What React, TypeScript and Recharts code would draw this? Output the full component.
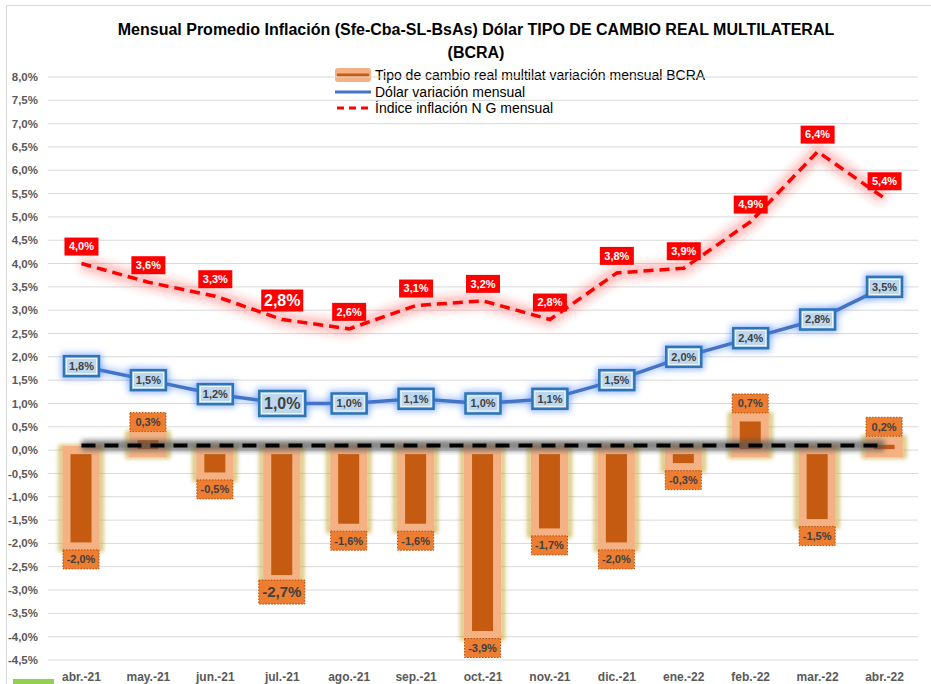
import { ComposedChart, Bar, Line, XAxis, YAxis, CartesianGrid, LabelList } from 'recharts'

const MESES = ['abr.-21', 'may.-21', 'jun.-21', 'jul.-21', 'ago.-21', 'sep.-21', 'oct.-21', 'nov.-21', 'dic.-21', 'ene.-22', 'feb.-22', 'mar.-22', 'abr.-22']
const TCRM = [-2.0, 0.3, -0.5, -2.7, -1.6, -1.6, -3.9, -1.7, -2.0, -0.3, 0.7, -1.5, 0.2]
const DOLAR = [1.8, 1.5, 1.2, 1.0, 1.0, 1.1, 1.0, 1.1, 1.5, 2.0, 2.4, 2.8, 3.5]
const INFLACION = [4.0, 3.6, 3.3, 2.8, 2.6, 3.1, 3.2, 2.8, 3.8, 3.9, 4.9, 6.4, 5.4]
const BASE = [0.1, 0.1, 0.1, 0.1, 0.1, 0.1, 0.1, 0.1, 0.1, 0.1, 0.1, 0.1, 0.1]
const Y_TICKS = [-4.5, -4, -3.5, -3, -2.5, -2, -1.5, -1, -0.5, 0, 0.5, 1, 1.5, 2, 2.5, 3, 3.5, 4, 4.5, 5, 5.5, 6, 6.5, 7, 7.5, 8]
const BIG = 3 // jul.-21 labels are drawn larger

const FONT = "'Liberation Sans', Arial, sans-serif"
const pct = (v: number) => v.toFixed(1).replace('.', ',') + '%'

const data = MESES.map((m, i) => ({
  mes: m,
  tcrm: TCRM[i],
  dolar: DOLAR[i],
  inflacion: INFLACION[i],
  base: BASE[i],
}))

const BarShape = (p: any) => {
  const top = Math.min(p.y, p.y + p.height)
  const h = Math.abs(p.height)
  const cx = p.x + p.width / 2
  return (
    <g>
      <rect x={cx - 20} y={top - 3} width={40} height={h + 9} fill="none" stroke="#c8a838" strokeWidth={5} opacity={0.7} filter="url(#yGlow)" />
      <rect x={cx - 14.5} y={top} width={29} height={h + 3} fill="#c55a11" stroke="#f4b183" strokeWidth={8} />
    </g>
  )
}

const BarLabel = (p: any) => {
  const v = Number(p.value)
  const big = p.index === BIG
  const cx = p.x + p.width / 2
  const y0 = Math.min(p.y, p.y + p.height)
  const y1 = Math.max(p.y, p.y + p.height)
  const w = big ? 46 : 36
  const hh = big ? 24 : 19
  const cy = v >= 0 ? y0 - 14 : y1 + 16
  return (
    <g>
      <rect x={cx - w / 2} y={cy - hh / 2} width={w} height={hh} fill="#ed7d31" stroke="#b34a0a" strokeWidth={1} strokeDasharray="1.5 1.5" />
      <text x={cx} y={cy} dy="0.35em" textAnchor="middle" fontFamily={FONT} fontWeight="bold" fontSize={big ? 15 : 11} fill="#404040">{pct(v)}</text>
    </g>
  )
}

const RedLabel = (p: any) => {
  const big = p.index === BIG
  const w = big ? 42 : 34
  const hh = big ? 22 : 18
  const cy = p.y - (big ? 19 : 17)
  return (
    <g>
      <rect x={p.x - w / 2} y={cy - hh / 2} width={w} height={hh} fill="#ff0000" />
      <text x={p.x} y={cy} dy="0.35em" textAnchor="middle" fontFamily={FONT} fontWeight="bold" fontSize={big ? 16 : 11} fill="#ffffff">{pct(Number(p.value))}</text>
    </g>
  )
}

const BlueLabel = (p: any) => {
  const big = p.index === BIG
  const w = big ? 46 : 35
  const hh = big ? 25 : 20
  return (
    <g>
      <rect x={p.x - w / 2 - 3} y={p.y - hh / 2 - 3} width={w + 6} height={hh + 6} fill="#3d7dff" opacity={0.5} filter="url(#bGlow)" />
      <rect x={p.x - w / 2} y={p.y - hh / 2} width={w} height={hh} fill="#bdd7ee" stroke="#2e75b6" strokeWidth={2.5} />
      <rect x={p.x - w / 2 + 2.5} y={p.y - hh / 2 + 2.5} width={w - 5} height={hh - 5} fill="none" stroke="#ffffff" strokeWidth={0.8} />
      <text x={p.x} y={p.y} dy="0.36em" textAnchor="middle" fontFamily={FONT} fontWeight="bold" fontSize={big ? 16 : 11} fill="#404040">{pct(Number(p.value))}</text>
    </g>
  )
}

const LegendBox = () => {
  const item = (icon: any, label: string) => (
    <div style={{ display: 'flex', alignItems: 'center', height: 16.5 }}>
      <svg width={40} height={14}>{icon}</svg>
      <span style={{ marginLeft: 2 }}>{label}</span>
    </div>
  )
  return (
    <div style={{ fontFamily: FONT, fontSize: 14, color: '#000', lineHeight: '16px' }}>
      {item(<g><rect x={2} y={0} width={36} height={14} rx={3} fill="#f4b183" /><line x1={4} y1={7} x2={36} y2={7} stroke="#c55a11" strokeWidth={3} /></g>, 'Tipo de cambio real multilat variación mensual BCRA')}
      {item(<line x1={2} y1={7} x2={38} y2={7} stroke="#4472c4" strokeWidth={3} />, 'Dólar variación mensual')}
      {item(<line x1={4} y1={7} x2={38} y2={7} stroke="#ff0000" strokeWidth={3} strokeDasharray="7 5" />, 'Índice inflación N G mensual')}
    </div>
  )
}

export default function App() {
  return (
    <div style={{ position: 'absolute', left: 0, top: 0, width: 931, height: 684, background: '#fff', overflow: 'hidden' }}>
      <svg width={0} height={0} style={{ position: 'absolute' }}>
        <defs>
          <filter id="yGlow" filterUnits="userSpaceOnUse" x={0} y={0} width={931} height={684}>
            <feGaussianBlur stdDeviation="2" />
          </filter>
          <filter id="bGlow" filterUnits="userSpaceOnUse" x={0} y={0} width={931} height={684}>
            <feGaussianBlur stdDeviation="3" />
          </filter>
          <filter id="rGlow" filterUnits="userSpaceOnUse" x={0} y={0} width={931} height={684}>
            <feGaussianBlur stdDeviation="4" />
          </filter>
          <filter id="kGlow" filterUnits="userSpaceOnUse" x={0} y={0} width={931} height={684}>
            <feGaussianBlur stdDeviation="2.5" />
          </filter>
        </defs>
      </svg>
      <div style={{ position: 'absolute', left: 6, top: 5, width: 940, height: 700, border: '1px solid #d9d9d9' }} />
      <div style={{ position: 'absolute', left: 0, top: 18, width: 952, textAlign: 'center', fontFamily: FONT, fontWeight: 'bold', fontSize: 16, lineHeight: '23px', color: '#000' }}>
        Mensual Promedio Inflación (Sfe-Cba-SL-BsAs) Dólar TIPO DE CAMBIO REAL MULTILATERAL<br />(BCRA)
      </div>
      <div style={{ position: 'absolute', left: 333, top: 67 }}>
        <LegendBox />
      </div>
      <div style={{ position: 'absolute', left: 13, top: 679, width: 41, height: 10, background: '#92d050' }} />
      <div style={{ position: 'absolute', left: 0, top: 0 }}>
        <ComposedChart width={931} height={684} data={data} margin={{ top: 77, right: 13, bottom: 0, left: 0 }} barGap={0}>
          <CartesianGrid vertical={false} stroke="#d9d9d9" />
          <XAxis dataKey="mes" height={24} axisLine={false} tickLine={false} tick={{ fontFamily: FONT, fontSize: 12, fontWeight: 'bold', fill: '#595959' }} dy={4} interval={0} />
          <YAxis domain={[-4.5, 8]} ticks={Y_TICKS} width={48} axisLine={false} tickLine={false} tickFormatter={pct} tick={{ fontFamily: FONT, fontSize: 11.5, fontWeight: 'bold', fill: '#595959' }} dx={-2} />
          <Bar dataKey="tcrm" barSize={28} shape={<BarShape />} isAnimationActive={false}>
            <LabelList dataKey="tcrm" content={<BarLabel />} />
          </Bar>
          <Line dataKey="base" stroke="#555555" strokeWidth={11} strokeOpacity={0.7} filter="url(#kGlow)" dot={false} isAnimationActive={false} />
          <Line dataKey="base" stroke="#000000" strokeWidth={4} strokeDasharray="14 9" dot={false} isAnimationActive={false} />
          <Line dataKey="dolar" stroke="#3d7dff" strokeWidth={9} strokeOpacity={0.35} filter="url(#bGlow)" dot={false} isAnimationActive={false} />
          <Line dataKey="dolar" stroke="#4472c4" strokeWidth={3.5} dot={false} isAnimationActive={false}>
            <LabelList dataKey="dolar" content={<BlueLabel />} />
          </Line>
          <Line dataKey="inflacion" stroke="#ff3030" strokeWidth={14} strokeOpacity={0.3} filter="url(#rGlow)" dot={false} isAnimationActive={false} />
          <Line dataKey="inflacion" stroke="#ff0000" strokeWidth={3.5} strokeDasharray="10 6" dot={false} isAnimationActive={false}>
            <LabelList dataKey="inflacion" content={<RedLabel />} />
          </Line>
        </ComposedChart>
      </div>
    </div>
  )
}
